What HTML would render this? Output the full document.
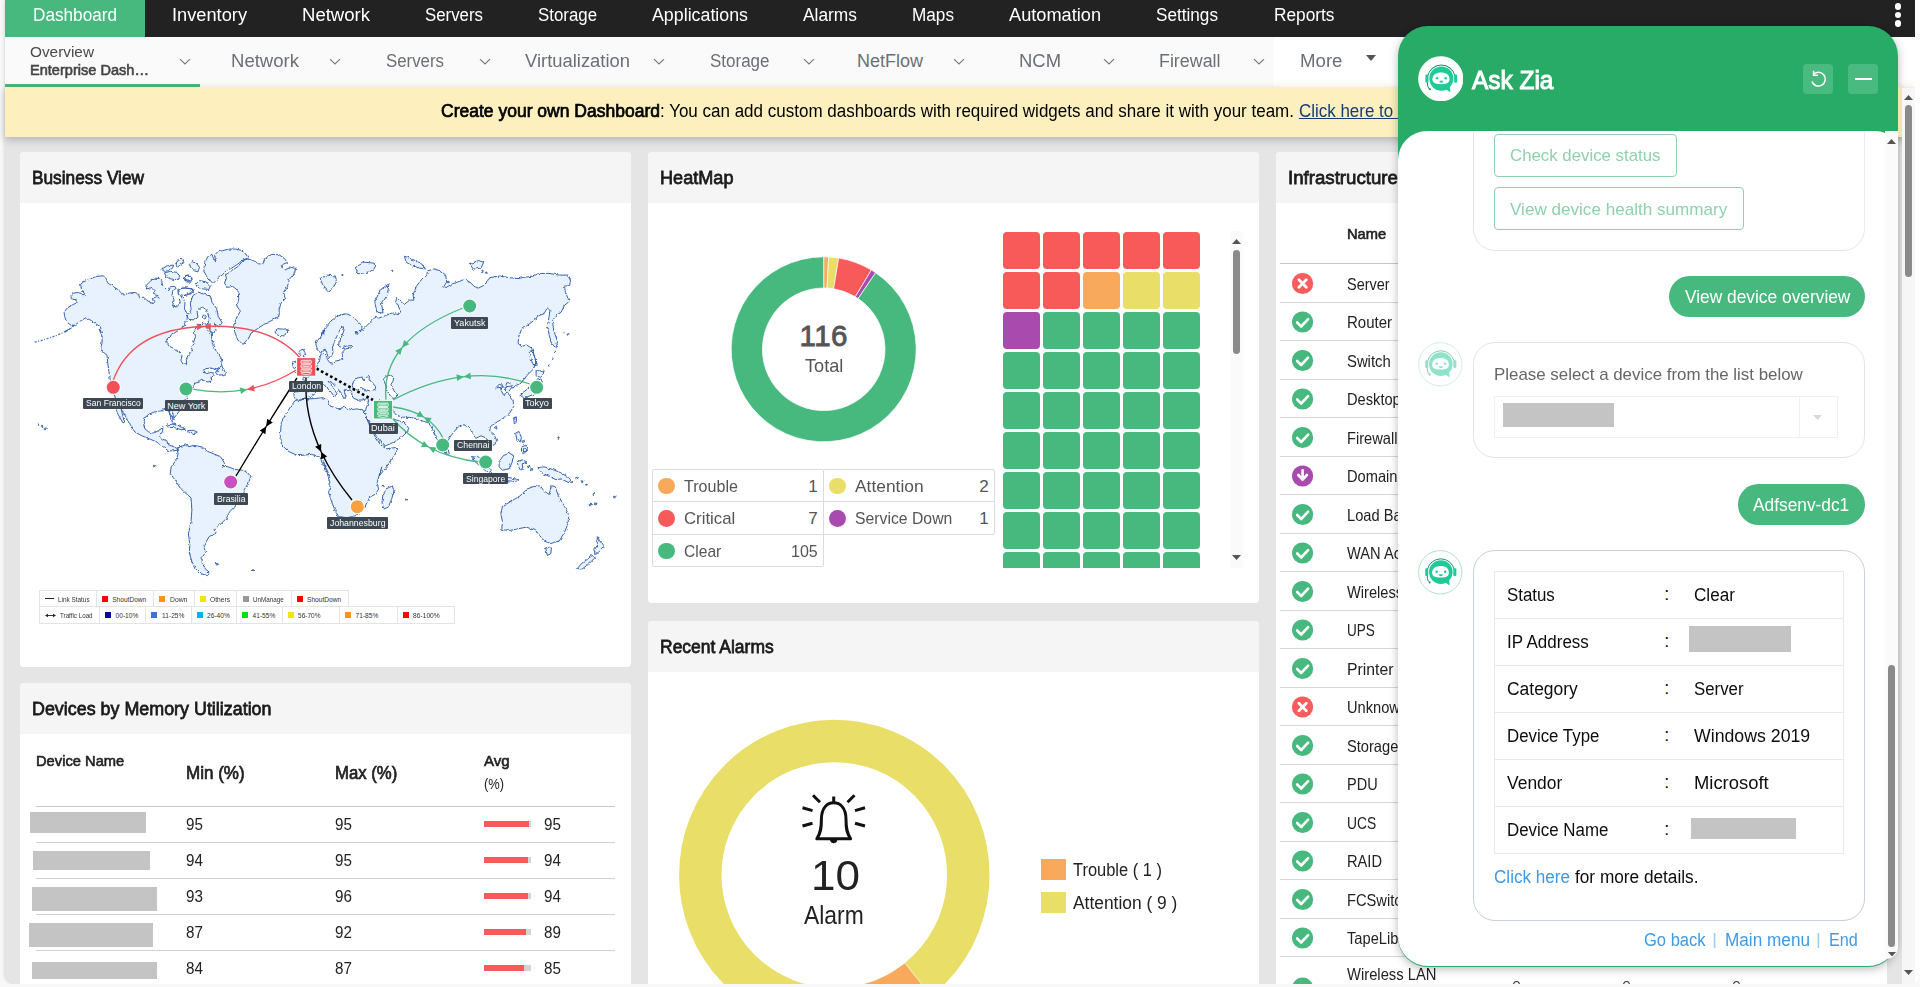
<!DOCTYPE html>
<html><head><meta charset="utf-8"><title>Dashboard</title><style>
html,body{margin:0;padding:0;}
body{width:1920px;height:987px;overflow:hidden;background:#f8f8f8;font-family:"Liberation Sans",sans-serif;position:relative;}
.t{position:absolute;white-space:nowrap;transform-origin:0 50%;}
.b{position:absolute;}
#clip{position:absolute;left:0;top:0;width:1920px;height:984px;overflow:hidden;border-radius:0 0 10px 10px;}
</style></head><body>
<div id="clip">
<div class="b" style="left:5.0px;top:0.0px;width:1910.0px;height:984.0px;background:#e5e5e5;border-radius:0 0 10px 10px;box-shadow:0 0 4px rgba(0,0,0,.18);"></div>
<div class="b" style="left:5.0px;top:0.0px;width:1910.0px;height:37.0px;background:#222;"></div>
<div class="b" style="left:5.0px;top:0.0px;width:140.0px;height:37.0px;background:#48b97e;"></div>
<div class="t" style="left:32.5px;top:3.0px;font-size:18px;line-height:25px;color:#fff;transform:scaleX(0.9538);">Dashboard</div>
<div class="t" style="left:172.0px;top:3.0px;font-size:18px;line-height:25px;color:#fff;transform:scaleX(1.0129);">Inventory</div>
<div class="t" style="left:302.0px;top:3.0px;font-size:18px;line-height:25px;color:#fff;transform:scaleX(1.0300);">Network</div>
<div class="t" style="left:425.0px;top:3.0px;font-size:18px;line-height:25px;color:#fff;transform:scaleX(0.9351);">Servers</div>
<div class="t" style="left:538.0px;top:3.0px;font-size:18px;line-height:25px;color:#fff;transform:scaleX(0.9358);">Storage</div>
<div class="t" style="left:652.0px;top:3.0px;font-size:18px;line-height:25px;color:#fff;transform:scaleX(0.9890);">Applications</div>
<div class="t" style="left:803.0px;top:3.0px;font-size:18px;line-height:25px;color:#fff;transform:scaleX(0.9641);">Alarms</div>
<div class="t" style="left:912.0px;top:3.0px;font-size:18px;line-height:25px;color:#fff;transform:scaleX(0.9541);">Maps</div>
<div class="t" style="left:1009.0px;top:3.0px;font-size:18px;line-height:25px;color:#fff;transform:scaleX(1.0103);">Automation</div>
<div class="t" style="left:1156.0px;top:3.0px;font-size:18px;line-height:25px;color:#fff;transform:scaleX(0.9532);">Settings</div>
<div class="t" style="left:1273.5px;top:3.0px;font-size:18px;line-height:25px;color:#fff;transform:scaleX(0.9598);">Reports</div>
<div class="b" style="left:1895.0px;top:3.3px;width:6.4px;height:6.4px;background:#fff;border-radius:50%;"></div>
<div class="b" style="left:1895.0px;top:11.8px;width:6.4px;height:6.4px;background:#fff;border-radius:50%;"></div>
<div class="b" style="left:1895.0px;top:20.3px;width:6.4px;height:6.4px;background:#fff;border-radius:50%;"></div>
<div class="b" style="left:5.0px;top:37.0px;width:1910.0px;height:50.3px;background:#fafafa;"></div>
<div class="b" style="left:1274.0px;top:37.0px;width:641.0px;height:50.5px;background:#fff;"></div>
<div class="b" style="left:5.0px;top:84.0px;width:195.0px;height:3.0px;background:#48b97e;"></div>
<div class="t" style="left:30.0px;top:40.5px;font-size:15px;line-height:21px;color:#4a4a4a;transform:scaleX(1.0237);">Overview</div>
<div class="t" style="left:30.0px;top:58.6px;font-size:15px;line-height:21px;color:#444;-webkit-text-stroke:0.60px #444;transform:scaleX(0.9710);">Enterprise Dash…</div>
<svg class="b" style="left:179px;top:57.5px" width="12" height="8" viewBox="0 0 12 8"><path d="M1 1.2 L6 6 L11 1.2" fill="none" stroke="#777" stroke-width="1.1"/></svg>
<div class="t" style="left:231.0px;top:49.0px;font-size:18px;line-height:25px;color:#6b6f76;transform:scaleX(1.0300);">Network</div>
<svg class="b" style="left:329px;top:57.5px" width="12" height="8" viewBox="0 0 12 8"><path d="M1 1.2 L6 6 L11 1.2" fill="none" stroke="#777" stroke-width="1.1"/></svg>
<div class="t" style="left:386.0px;top:49.0px;font-size:18px;line-height:25px;color:#6b6f76;transform:scaleX(0.9351);">Servers</div>
<svg class="b" style="left:479px;top:57.5px" width="12" height="8" viewBox="0 0 12 8"><path d="M1 1.2 L6 6 L11 1.2" fill="none" stroke="#777" stroke-width="1.1"/></svg>
<div class="t" style="left:525.0px;top:49.0px;font-size:18px;line-height:25px;color:#6b6f76;transform:scaleX(1.0220);">Virtualization</div>
<svg class="b" style="left:653px;top:57.5px" width="12" height="8" viewBox="0 0 12 8"><path d="M1 1.2 L6 6 L11 1.2" fill="none" stroke="#777" stroke-width="1.1"/></svg>
<div class="t" style="left:710.0px;top:49.0px;font-size:18px;line-height:25px;color:#6b6f76;transform:scaleX(0.9437);">Storage</div>
<svg class="b" style="left:803px;top:57.5px" width="12" height="8" viewBox="0 0 12 8"><path d="M1 1.2 L6 6 L11 1.2" fill="none" stroke="#777" stroke-width="1.1"/></svg>
<div class="t" style="left:857.0px;top:49.0px;font-size:18px;line-height:25px;color:#6b6f76;">NetFlow</div>
<svg class="b" style="left:953px;top:57.5px" width="12" height="8" viewBox="0 0 12 8"><path d="M1 1.2 L6 6 L11 1.2" fill="none" stroke="#777" stroke-width="1.1"/></svg>
<div class="t" style="left:1019.0px;top:49.0px;font-size:18px;line-height:25px;color:#6b6f76;transform:scaleX(1.0245);">NCM</div>
<svg class="b" style="left:1103px;top:57.5px" width="12" height="8" viewBox="0 0 12 8"><path d="M1 1.2 L6 6 L11 1.2" fill="none" stroke="#777" stroke-width="1.1"/></svg>
<div class="t" style="left:1159.0px;top:49.0px;font-size:18px;line-height:25px;color:#6b6f76;transform:scaleX(0.9917);">Firewall</div>
<svg class="b" style="left:1253px;top:57.5px" width="12" height="8" viewBox="0 0 12 8"><path d="M1 1.2 L6 6 L11 1.2" fill="none" stroke="#777" stroke-width="1.1"/></svg>
<div class="t" style="left:1300.0px;top:49.0px;font-size:18px;line-height:25px;color:#6b6f76;transform:scaleX(1.0362);">More</div>
<svg class="b" style="left:1366px;top:55px" width="10" height="6"><path d="M0 0H10L5 6Z" fill="#555"/></svg>
<div class="b" style="left:5.0px;top:87.2px;width:1910.0px;height:49.7px;background:#fdf0be;box-shadow:0 3px 8px rgba(0,0,0,.22);"></div>
<div class="t" style="left:441.0px;top:99.0px;font-size:18px;line-height:25px;color:#000;-webkit-text-stroke:0.72px #000;transform:scaleX(0.9727);">Create your own Dashboard</div>
<div class="t" style="left:660.0px;top:99.0px;font-size:18px;line-height:25px;color:#000;transform:scaleX(0.9443);">: You can add custom dashboards with required widgets and share it with your team.</div>
<div class="t" style="left:1299.0px;top:99.0px;font-size:18px;line-height:25px;color:#1b3a7a;transform:scaleX(0.9415);text-decoration:underline;">Click here to create</div>
<div class="b" style="left:20.0px;top:152.0px;width:611.0px;height:515.0px;background:#fff;border-radius:4px;"></div><div class="b" style="left:20.0px;top:152.0px;width:611.0px;height:50.7px;background:#f5f5f5;border-radius:4px 4px 0 0;"></div><div class="t" style="left:31.8px;top:163.5px;font-size:19px;line-height:27px;color:#1a1a1a;-webkit-text-stroke:0.76px #1a1a1a;transform:scaleX(0.9090);">Business View</div>
<div class="b" style="left:20.0px;top:683.0px;width:611.0px;height:320.0px;background:#fff;border-radius:4px;"></div><div class="b" style="left:20.0px;top:683.0px;width:611.0px;height:50.7px;background:#f5f5f5;border-radius:4px 4px 0 0;"></div><div class="t" style="left:31.8px;top:694.5px;font-size:19px;line-height:27px;color:#1a1a1a;-webkit-text-stroke:0.76px #1a1a1a;transform:scaleX(0.9412);">Devices by Memory Utilization</div>
<div class="b" style="left:648.0px;top:152.0px;width:611.0px;height:451.4px;background:#fff;border-radius:4px;"></div><div class="b" style="left:648.0px;top:152.0px;width:611.0px;height:50.7px;background:#f5f5f5;border-radius:4px 4px 0 0;"></div><div class="t" style="left:659.8px;top:163.5px;font-size:19px;line-height:27px;color:#1a1a1a;-webkit-text-stroke:0.76px #1a1a1a;transform:scaleX(0.9534);">HeatMap</div>
<div class="b" style="left:648.0px;top:621.0px;width:611.0px;height:380.0px;background:#fff;border-radius:4px;"></div><div class="b" style="left:648.0px;top:621.0px;width:611.0px;height:50.7px;background:#f5f5f5;border-radius:4px 4px 0 0;"></div><div class="t" style="left:659.8px;top:632.5px;font-size:19px;line-height:27px;color:#1a1a1a;-webkit-text-stroke:0.76px #1a1a1a;transform:scaleX(0.9203);">Recent Alarms</div>
<div class="b" style="left:1276.0px;top:152.0px;width:611.0px;height:850.0px;background:#fff;border-radius:4px;"></div><div class="b" style="left:1276.0px;top:152.0px;width:611.0px;height:50.7px;background:#f5f5f5;border-radius:4px 4px 0 0;"></div><div class="t" style="left:1287.8px;top:163.5px;font-size:19px;line-height:27px;color:#1a1a1a;-webkit-text-stroke:0.76px #1a1a1a;transform:scaleX(0.9824);">Infrastructure Snapshot</div>
<svg class="b" style="left:0;top:0" width="640" height="680" viewBox="0 0 640 680"><defs><filter id="rg" x="-2%" y="-2%" width="104%" height="104%"><feTurbulence type="fractalNoise" baseFrequency="0.28" numOctaves="2" seed="7" result="n"/><feDisplacementMap in="SourceGraphic" in2="n" scale="3.2" xChannelSelector="R" yChannelSelector="G"/></filter></defs><path filter="url(#rg)" d="M64.1 331.6L69.3 329.2L73.4 326.6L70.8 325.1L66.7 322.0L64.6 316.3L64.1 312.2L67.2 308.0L72.4 304.9L77.5 302.3L75.5 299.8L71.3 298.7L70.8 295.6L73.4 293.0L78.6 292.5L81.7 294.6L85.3 294.6L81.7 290.5L80.6 284.3L83.7 281.7L89.9 279.1L96.1 276.5L103.4 275.7L106.5 279.1L107.5 282.7L112.7 286.3L117.8 289.4L122.0 293.6L124.0 295.1L129.2 293.0L135.4 292.5L138.5 294.1L139.5 297.7L143.7 297.2L146.8 300.3L153.0 303.9L155.0 301.3L151.9 298.7L156.6 296.7L159.7 298.2L158.1 295.6L153.5 294.6L154.0 290.5L150.9 287.4L146.8 289.4L145.7 285.8L149.9 281.7L154.0 278.1L159.2 278.6L161.7 280.6L162.8 285.8L166.4 289.4L169.0 290.5L170.5 286.8L174.7 286.3L176.2 288.4L172.6 290.5L172.1 295.6L174.1 299.8L172.6 306.0L176.7 307.0L180.3 302.9L179.3 298.7L182.9 297.2L185.0 302.9L184.5 309.1L187.6 314.2L187.1 319.4L185.6 322.1L184.1 326.2L176.9 331.4L170.7 335.5L166.5 339.6L167.0 342.2L168.6 345.8L172.7 347.9L177.9 351.0L182.0 355.1L181.0 360.3L183.1 364.4L186.7 363.4L186.2 359.3L188.2 355.1L192.4 351.0L191.3 346.9L193.4 342.7L195.5 336.5L194.4 331.4L196.0 327.2L198.6 324.1L201.7 325.7L203.7 322.1L207.9 326.2L211.0 332.4L212.0 339.6L214.1 345.8L216.1 351.0L221.3 358.2L222.3 363.4L220.3 366.5L216.1 369.6L211.0 368.0L205.8 368.6L203.7 370.6L206.3 373.7L212.0 372.2L214.1 374.8L211.0 377.9L212.0 381.0L207.9 382.0L203.7 381.0L201.7 378.9L198.6 382.0L195.5 383.0L193.4 386.1L191.3 389.2L188.2 394.4L185.6 398.5L184.1 402.7L182.0 407.8L177.9 413.0L174.8 417.1L172.2 421.8L166.0 404.8L170.3 409.1L172.9 414.3L174.3 418.3L171.6 416.9L169.1 411.7L166.0 409.1L160.9 410.9L154.0 412.1L148.8 414.3L145.0 417.7L143.3 423.8L145.0 428.9L148.8 432.0L154.0 433.2L158.8 430.3L162.9 427.6L162.6 431.5L159.5 435.8L162.6 439.3L166.9 440.7L167.8 444.4L172.9 446.5L176.7 448.2L181.5 446.2L177.8 450.0L172.9 451.0L167.8 450.6L163.5 447.0L157.4 442.4L150.5 439.3L141.9 435.8L135.0 432.0L130.7 426.4L127.3 419.5L123.9 413.4L120.9 407.4L122.6 415.2L124.7 422.1L123.0 422.9L119.5 416.9L116.1 410.9L114.7 406.6L118.7 408.6L115.8 400.0L114.0 393.1L112.3 387.1L110.2 379.3L108.9 371.6L107.8 363.8L107.0 355.2L103.2 352.1L100.9 348.3L102.3 341.4L101.5 334.5L98.9 328.9L102.3 332.8L100.3 326.6L96.1 324.0L91.0 320.4L85.8 317.8L80.6 320.9L75.5 324.6L70.8 328.2L65.1 332.4Z M161.2 269.3L167.4 265.7L173.6 265.1L172.6 268.2L167.4 270.8L164.3 271.3Z M175.7 263.6L179.8 258.4L182.4 258.9L184.0 262.6L179.8 265.1L177.8 267.2Z M164.3 272.9L170.5 271.3L176.7 272.4L179.8 276.0L178.8 279.1L174.7 279.6L169.5 278.6L166.4 276.5Z M189.6 264.6L192.2 260.5L196.4 263.1L199.5 267.2L197.9 271.9L194.3 270.8L191.2 268.2Z M184.0 276.0L189.1 275.0L192.2 278.1L190.7 282.2L186.0 281.7Z M177.8 289.4L184.0 287.9L191.2 288.9L194.3 290.5L191.2 293.6L185.0 295.6L179.8 294.6Z M203.7 269.8L204.8 262.6L207.9 256.4L212.0 254.3L213.5 258.4L216.1 262.0L214.6 255.3L217.2 252.2L222.3 250.7L228.5 249.1L235.8 249.1L240.9 250.2L246.1 254.3L248.2 257.9L243.0 260.0L237.8 264.1L231.6 268.2L226.5 270.3L222.3 275.0L217.2 279.1L213.0 283.7L209.9 280.1L206.3 276.0Z M195.5 284.3L199.6 280.6L205.8 281.7L210.4 285.8L208.9 289.4L202.7 288.9L197.5 287.4Z M184.1 276.0L188.2 275.0L191.3 278.1L189.8 281.2L185.6 280.6Z M177.9 291.5L181.0 288.4L187.2 287.9L193.4 289.4L191.3 292.5L186.2 294.6L181.0 296.7L178.4 294.6Z M190.3 302.9L192.9 295.6L198.0 292.0L203.7 294.1L210.4 296.1L212.0 302.3L216.6 308.5L218.2 316.3L222.3 323.0L218.7 326.6L214.6 324.0L216.1 330.8L212.0 334.4L207.9 330.8L206.3 326.6L209.4 318.9L206.3 309.6L202.2 307.0L197.0 311.1L198.0 317.3L194.4 319.9L188.7 319.4L186.7 315.3L191.3 311.1Z M225.4 275.0L231.6 270.8L237.8 266.7L243.0 260.5L248.2 258.9L253.3 260.5L258.5 263.6L262.6 264.6L264.7 258.4L271.9 254.3L279.2 254.8L284.3 258.4L287.4 262.6L283.3 264.1L281.2 266.7L285.4 269.8L290.5 267.2L295.7 268.2L294.7 272.9L289.5 279.1L287.4 286.3L283.3 292.5L285.4 298.7L281.2 302.9L279.2 309.1L279.2 316.3L271.9 320.4L263.7 324.6L257.5 328.7L251.3 332.8L248.2 339.0L243.0 344.2L237.8 340.1L234.7 331.8L234.2 324.6L236.8 317.3L240.4 311.1L236.8 306.0L238.9 298.7L237.8 290.5L232.7 286.3L227.5 287.4L224.4 283.2L226.5 278.1Z M275.0 330.8L277.6 328.7L283.3 329.2L287.9 328.5L287.4 332.8L283.3 335.9L278.1 335.4L275.5 333.3Z M216.1 373.7L218.7 368.6L221.3 365.5L223.9 369.6L225.4 372.7L224.9 376.3L221.3 374.8L218.2 375.3Z M166.0 425.2L172.9 424.1L179.8 426.4L185.8 429.3L181.5 429.8L174.7 427.6L167.8 427.2Z M187.6 430.7L193.6 430.3L197.9 432.4L192.7 433.8L188.4 433.1Z M177.2 448.7L181.5 446.2L187.6 444.4L188.4 447.0L193.6 445.3L202.2 447.0L207.4 451.3L216.0 454.8L221.1 457.4L224.6 463.4L222.0 466.0L228.0 466.8L234.9 469.4L243.5 470.3L248.7 473.7L250.4 478.0L247.8 484.0L244.4 489.2L243.5 496.1L240.1 503.0L234.9 506.4L229.8 511.6L226.3 518.5L221.1 523.7L215.1 528.8L216.0 533.1L209.1 536.6L205.7 542.6L203.9 547.8L205.7 551.2L202.2 556.4L202.2 563.3L205.7 569.3L210.0 572.7L207.4 575.7L200.5 573.6L195.3 568.4L191.9 561.5L189.3 552.9L189.8 544.3L188.4 534.0L191.0 521.9L191.9 509.9L191.0 497.8L185.0 492.7L179.8 487.5L175.5 480.6L170.3 473.7L171.2 466.8L176.4 459.9L178.1 453.9Z M295.1 400.6L304.8 399.2L314.4 398.6L322.7 397.6L328.2 400.6L330.2 406.1L338.5 408.9L344.7 407.2L350.2 409.6L357.1 408.9L363.3 410.3L366.1 417.2L369.5 425.4L375.0 436.4L380.5 444.7L386.0 448.8L395.7 447.5L397.8 449.1L394.3 455.7L388.8 464.0L383.3 470.9L379.2 476.0L382.0 466.8L379.4 474.6L377.2 482.3L378.6 489.2L375.1 494.4L369.9 497.0L366.8 503.0L363.1 509.9L357.0 515.0L347.6 517.6L338.9 516.8L335.5 511.6L332.1 503.0L328.6 492.7L330.3 484.0L327.7 475.4L323.4 461.7L329.6 476.0L325.4 470.9L322.7 464.0L319.9 457.1L311.6 454.4L297.9 455.7L288.9 451.6L282.7 446.1L280.0 439.2L280.6 430.9L281.3 422.7L285.5 414.4L291.0 406.1Z M382.9 494.4L387.2 488.4L392.3 485.8L394.0 490.9L391.5 499.5L388.0 507.3L383.7 509.0L382.0 503.0Z M320.0 338.9L325.2 327.7L332.1 319.9L338.9 315.6L345.8 313.9L351.9 315.6L357.0 320.8L362.2 325.9L361.3 330.2L356.2 331.1L357.0 334.5L363.1 329.4L369.9 322.5L375.1 317.3L378.6 318.2L385.4 315.6L392.3 313.0L398.4 314.7L400.9 311.3L395.8 301.8L396.6 297.5L400.9 301.8L404.4 304.4L409.5 300.1L413.9 300.1L413.0 294.9L416.4 286.3L421.6 279.4L426.8 274.3L427.6 270.8L433.7 269.1L440.5 270.8L445.7 275.1L446.6 282.0L443.1 288.1L448.3 286.3L452.6 283.7L457.8 282.0L464.7 279.4L469.8 282.0L474.1 286.3L478.4 288.1L483.6 285.5L487.9 281.2L489.6 277.7L499.1 276.0L509.4 277.7L518.0 278.6L526.6 276.9L533.5 276.0L538.7 273.4L549.0 273.4L559.4 275.1L568.0 275.1L570.6 279.4L569.7 285.5L564.5 286.3L565.4 291.5L568.0 298.4L568.8 301.8L564.5 305.3L561.1 312.2L555.9 315.6L552.5 320.8L553.3 327.7L555.1 334.5L557.6 341.4L555.9 348.3L551.6 343.2L549.0 334.5L547.3 325.9L549.0 317.3L549.9 310.4L547.3 307.9L543.9 313.9L538.7 315.6L533.5 320.8L526.6 325.9L521.5 329.4L518.9 336.3L518.0 343.2L521.5 346.6L526.6 344.9L531.8 348.3L533.5 355.2L536.1 362.1L533.5 369.0L526.6 375.9L521.5 382.8L516.3 385.3L512.9 387.9L510.3 382.8L506.8 382.8L505.1 387.9L506.8 393.1L503.4 394.8L500.8 389.7L502.5 385.3L499.1 384.5L495.7 387.9L512.9 385.9L507.7 392.8L512.9 399.7L513.7 406.6L509.4 413.4L502.5 418.6L495.7 422.9L490.5 426.4L489.6 430.7L493.9 434.1L496.5 440.1L493.9 445.3L489.6 442.7L485.3 437.6L481.0 435.8L475.8 438.4L473.3 435.0L470.7 429.8L466.4 425.5L462.1 424.6L457.8 427.2L454.3 431.5L450.9 435.8L448.3 440.1L446.6 446.2L444.0 450.5L440.5 447.0L438.0 441.0L435.4 435.8L432.8 429.8L430.2 424.6L428.8 422.7L423.2 421.3L417.7 418.8L409.5 417.4L402.6 417.2L396.4 415.1L393.2 411.6L391.6 406.1L386.0 402.0L379.2 400.6L378.9 404.8L384.7 413.0L390.2 418.5L395.7 419.9L398.4 420.6L404.0 422.7L408.8 428.2L407.4 431.6L402.6 436.4L394.3 442.0L384.7 446.1L381.9 443.3L375.7 435.1L369.5 422.7L366.1 417.2L364.3 411.9L366.1 408.1L367.8 403.9L368.9 398.8L366.1 398.8L362.0 400.1L357.8 399.8L353.7 398.4L352.0 395.7L351.6 392.2L350.3 389.8L347.9 390.8L346.1 389.5L344.1 389.8L344.8 392.9L346.1 395.7L345.4 398.4L343.4 397.7L342.0 395.0L339.9 392.2L338.6 389.8L335.1 386.0L332.4 382.9L329.6 380.9L328.2 381.5L330.6 384.6L333.4 388.4L336.1 392.2L337.2 393.9L335.1 395.7L334.8 397.0L333.4 395.3L331.7 392.9L328.2 389.1L325.8 385.3L324.1 385.3L321.3 386.0L318.6 388.1L317.2 390.8L314.4 393.6L313.1 395.7L310.3 397.7L306.2 399.1L302.7 399.5L299.3 400.6L297.6 399.8L294.8 398.4L294.1 395.7L293.8 393.6L294.8 391.9L302.7 391.2L308.9 390.6L310.3 387.9L308.9 383.7L306.2 381.0L302.7 379.6L303.4 377.5L308.9 376.8L312.4 374.1L314.4 371.3L316.5 367.2L317.5 363.8L319.6 360.3L320.3 356.2L321.0 354.1L323.4 353.4L326.2 356.2L327.5 359.6L329.6 362.4L332.4 363.2L335.1 361.1L339.2 360.4L342.7 358.9L342.0 352.7L345.4 348.9L351.0 347.9L351.6 345.5L346.1 346.2L342.0 347.9L338.6 345.8L339.2 341.0L342.0 335.5L344.1 330.0L342.3 326.0L339.9 330.0L337.2 335.5L334.4 341.7L332.4 347.2L333.0 352.7L331.0 356.9L328.2 357.6L326.8 353.4L324.8 347.9L324.1 350.7L320.6 352.7L317.2 350.0L315.8 343.8L318.6 339.0L322.7 334.8L324.8 330.0Z M300.7 350.0L303.4 349.3L305.1 353.4L303.4 356.9L306.2 360.3L308.9 365.8L310.3 370.6L307.6 374.1L302.7 375.5L297.2 374.8L295.8 372.7L299.3 370.0L297.2 367.2L298.6 363.1L300.7 360.3L299.3 356.2L298.6 352.0Z M292.7 362.4L295.5 361.0L297.2 364.4L296.2 367.5L293.4 367.9L292.1 365.8Z M320.0 278.6L326.9 275.1L335.5 276.0L336.4 282.0L332.9 288.1L327.7 291.5L323.4 286.3Z M354.4 268.2L363.9 262.2L374.2 263.1L374.8 268.2L369.9 271.7L358.7 273.9Z M376.8 312.2L374.8 301.8L380.3 289.8L388.9 283.7L387.5 294.9L381.6 303.6L383.0 313.0Z M404.4 256.2L413.0 259.6L420.7 263.1L425.9 269.1L419.9 268.2L412.1 265.7L406.1 262.2Z M469.8 263.9L478.4 260.5L483.6 262.2L481.0 268.2L473.3 269.1Z M529.2 351.8L532.7 350.9L535.3 358.7L536.1 365.5L533.2 365.5L531.0 358.7Z M536.1 369.8L543.9 372.4L541.3 377.6L536.1 375.9Z M519.8 394.8L526.6 389.7L533.5 384.5L537.8 378.5L542.1 381.0L541.3 387.9L537.0 393.1L530.1 395.7L524.1 398.3Z M513.7 417.7L516.3 416.9L516.7 422.1L514.2 423.8Z M444.8 450.5L448.3 449.6L449.2 453.9L446.1 454.4Z M471.5 456.5L476.7 455.6L483.6 461.7L490.5 469.4L492.2 473.7L487.9 472.9L481.0 466.8L475.0 461.7Z M492.2 476.3L500.8 476.3L511.1 478.0L518.0 479.7L516.3 481.5L506.0 480.6L493.9 478.9Z M499.1 461.7L503.4 455.6L509.4 453.1L513.7 455.6L512.0 462.5L509.4 468.6L502.5 470.3L499.1 466.8Z M517.2 461.7L522.3 459.9L526.6 461.7L522.3 464.2L523.2 470.3L519.8 469.4L518.0 465.1Z M515.5 433.2L518.9 431.5L521.5 437.6L519.8 442.7L517.2 441.0Z M521.5 447.0L525.8 445.3L527.5 450.5L524.1 453.1L521.5 451.3Z M537.8 467.7L543.9 466.8L552.5 469.4L561.1 472.9L568.0 477.2L573.1 482.3L568.0 482.3L561.1 478.9L555.9 479.7L549.0 476.3L542.1 472.9Z M500.8 513.3L502.5 506.4L511.1 501.3L519.8 496.1L526.6 489.2L533.5 486.6L540.4 485.8L543.9 490.9L549.0 494.4L551.6 485.8L555.1 486.6L558.5 496.1L564.5 506.4L568.8 515.0L568.0 523.7L564.5 532.3L559.4 540.9L550.8 543.5L543.9 540.9L538.7 534.0L535.3 530.5L526.6 527.1L518.0 528.8L509.4 530.5L501.7 529.7L502.5 521.9Z M545.6 547.8L551.6 546.9L550.8 553.8L547.3 555.5Z M597.3 536.6L599.8 540.9L604.1 546.9L599.8 551.2L595.5 554.7L593.8 549.5L597.3 544.3Z M592.1 555.5L595.5 557.2L588.6 564.1L581.8 569.3L577.4 568.4L581.8 563.3L587.8 559.0Z M37.8 424.2L39.1 424.0L39.4 425.0L38.1 425.2Z M41.3 426.5L42.6 426.3L42.9 427.3L41.5 427.5Z M44.1 428.3L45.9 428.0L46.3 429.5L44.4 429.8Z M153.1 465.6L154.6 465.4L154.9 466.4L153.4 466.6Z M215.3 563.6L217.8 563.3L218.3 564.7L215.8 564.9Z M252.2 569.8L253.5 569.7L253.8 570.5L252.5 570.7Z M557.8 437.1L559.0 436.9L559.2 438.0L558.0 438.3Z M575.5 477.6L577.3 477.4L577.7 478.5L575.9 478.7Z M580.6 481.0L582.6 480.8L583.0 481.9L581.0 482.1Z M585.6 484.5L587.2 484.3L587.6 485.3L585.9 485.5Z M593.1 493.6L594.3 493.3L594.5 495.1L593.3 495.5Z M595.2 503.2L596.3 502.9L596.6 504.5L595.4 504.9Z M589.0 504.6L591.8 504.4L592.4 505.5L589.6 505.8Z M613.5 496.4L615.7 496.1L616.1 497.6L613.9 497.9Z M494.4 426.6L496.5 426.2L497.0 427.9L494.8 428.2Z M405.4 499.1L406.6 498.9L406.8 499.9L405.6 500.1Z M382.2 485.4L383.3 485.2L383.6 486.2L382.4 486.4Z M527.5 466.3L529.5 466.0L529.9 467.4L527.9 467.6Z M530.3 468.9L532.8 468.7L533.3 469.9L530.8 470.1Z M522.0 440.1L524.0 439.7L524.4 441.9L522.4 442.3Z M523.2 448.8L526.1 448.3L526.6 451.1L523.8 451.7Z M567.1 334.1L568.6 333.9L568.9 335.0L567.4 335.2Z M563.9 332.5L564.9 332.3L565.1 333.2L564.1 333.3Z M554.5 351.3L555.5 351.1L555.7 352.2L554.7 352.5Z M551.9 358.2L552.9 358.0L553.1 359.1L552.1 359.4Z M548.4 365.1L549.4 364.8L549.6 366.0L548.6 366.2Z M543.2 371.1L544.3 370.9L544.6 372.0L543.4 372.3Z M391.7 270.4L392.7 270.2L392.9 271.2L391.9 271.4Z M341.8 274.7L342.8 274.5L343.0 275.5L342.0 275.7Z M447.3 281.5L449.0 281.2L449.3 282.6L447.6 282.8Z M480.7 271.2L482.7 271.0L483.1 272.2L481.1 272.4Z M485.4 272.2L486.7 272.0L487.0 273.0L485.6 273.2Z M202.2 316.3L204.2 314.7L206.3 316.3L205.3 318.9L202.9 318.6Z M352.3 385.3L354.4 379.1L358.5 377.8L362.0 377.1L363.4 380.5L366.8 377.1L369.6 376.4L368.9 379.8L372.3 382.6L375.7 386.7L375.1 389.5L369.6 390.8L364.7 389.5L360.6 387.4L357.8 390.2L353.0 388.8Z M383.3 379.1L386.1 376.4L390.2 375.0L393.7 377.1L393.0 381.2L390.9 384.6L393.7 390.2L396.4 395.0L396.4 397.7L393.0 398.4L390.2 395.7L388.1 391.5L386.1 386.0Z" fill="#e8f1fe" stroke="#2d5cab" stroke-width=".95" stroke-linejoin="round" fill-rule="evenodd"/><path d="M34.6 342.1L39.3 341.1L43.4 339.9L48.6 338.2L53.8 336.3L58.4 334.7L62.0 333.1L64.6 331.8" fill="none" stroke="#3363b0" stroke-width="1.3" stroke-dasharray="2.2 1.4 1 1.6" opacity=".85"/><path d="M113 381 C128 338 168 328 203 326.5 C246 324.5 280 334 300.5 358.5" fill="none" stroke="#f0505a" stroke-width="1.3"/><path d="M203.8 326.6L196.7 323.6L197.0 330.3Z" fill="#f0505a"/><path d="M203.8 326.6L210.9 329.7L210.7 323.0Z" fill="#f0505a"/><path d="M192.0 389.2Q221.0 394.4 247.2 389.4" fill="none" stroke="#48b97e" stroke-width="1.3"/><path d="M247.2 389.4Q273.5 384.5 297.0 369.5" fill="none" stroke="#f0505a" stroke-width="1.3"/><path d="M247.2 389.4L239.8 387.4L241.0 394.0Z" fill="#48b97e"/><path d="M247.2 389.4L254.7 391.5L253.5 384.8Z" fill="#f0505a"/><path d="M316.5 368.5 L373 400" fill="none" stroke="#000" stroke-width="2.6" stroke-dasharray="2.6 2.6"/><path d="M297.0 378.0Q281.5 402.0 266.2 426.5" fill="none" stroke="#000" stroke-width="1.4"/><path d="M266.2 426.5Q251.0 451.0 236.0 476.0" fill="none" stroke="#000" stroke-width="1.4"/><path d="M266.2 426.5L272.8 422.4L267.1 418.8Z" fill="#000"/><path d="M266.2 426.5L259.7 430.6L265.4 434.2Z" fill="#000"/><path d="M306.0 378.0Q304.2 415.2 321.1 451.7" fill="none" stroke="#000" stroke-width="1.4"/><path d="M321.1 451.7Q332.4 476.0 352.0 500.0" fill="none" stroke="#000" stroke-width="1.4"/><path d="M321.1 451.7L321.2 443.9L315.1 446.8Z" fill="#000"/><path d="M321.1 451.7L321.0 459.4L327.1 456.6Z" fill="#000"/><path d="M386.0 400.0Q383.0 370.5 402.2 347.5" fill="none" stroke="#48b97e" stroke-width="1.3"/><path d="M402.2 347.5Q421.5 324.5 463.0 308.0" fill="none" stroke="#48b97e" stroke-width="1.3"/><path d="M402.2 347.5L395.2 350.7L400.4 355.0Z" fill="#48b97e"/><path d="M402.2 347.5L409.3 344.3L404.1 340.0Z" fill="#48b97e"/><path d="M393.0 400.0Q429.5 380.7 463.8 376.7" fill="none" stroke="#48b97e" stroke-width="1.3"/><path d="M463.8 376.7Q498.0 372.7 530.0 384.0" fill="none" stroke="#48b97e" stroke-width="1.3"/><path d="M463.8 376.7L456.4 374.2L457.2 380.9Z" fill="#48b97e"/><path d="M463.8 376.7L471.1 379.2L470.3 372.5Z" fill="#48b97e"/><path d="M393.0 407.0Q411.5 409.5 424.0 417.2" fill="none" stroke="#48b97e" stroke-width="1.3"/><path d="M424.0 417.2Q436.5 425.0 443.0 438.0" fill="none" stroke="#48b97e" stroke-width="1.3"/><path d="M424.0 417.2L419.9 410.7L416.3 416.4Z" fill="#48b97e"/><path d="M424.0 417.2L428.1 423.8L431.7 418.1Z" fill="#48b97e"/><path d="M392.0 418.0Q407.8 436.2 428.7 447.1" fill="none" stroke="#48b97e" stroke-width="1.3"/><path d="M428.7 447.1Q451.4 458.9 480.0 462.0" fill="none" stroke="#48b97e" stroke-width="1.3"/><path d="M428.7 447.1L424.1 440.9L421.0 446.9Z" fill="#48b97e"/><path d="M428.7 447.1L433.4 453.3L436.5 447.3Z" fill="#48b97e"/><circle cx="113.3" cy="387.3" r="7.6" fill="#fff" opacity=".9"/><circle cx="113.3" cy="387.3" r="6.5" fill="#f0505a"/><circle cx="186.0" cy="389.0" r="7.6" fill="#fff" opacity=".9"/><circle cx="186.0" cy="389.0" r="6.5" fill="#48b97e"/><circle cx="469.7" cy="306.0" r="7.6" fill="#fff" opacity=".9"/><circle cx="469.7" cy="306.0" r="6.5" fill="#48b97e"/><circle cx="536.7" cy="387.3" r="7.6" fill="#fff" opacity=".9"/><circle cx="536.7" cy="387.3" r="6.5" fill="#48b97e"/><circle cx="442.7" cy="445.0" r="7.6" fill="#fff" opacity=".9"/><circle cx="442.7" cy="445.0" r="6.5" fill="#48b97e"/><circle cx="485.7" cy="462.0" r="7.6" fill="#fff" opacity=".9"/><circle cx="485.7" cy="462.0" r="6.5" fill="#48b97e"/><circle cx="230.7" cy="482.0" r="7.6" fill="#fff" opacity=".9"/><circle cx="230.7" cy="482.0" r="6.5" fill="#c94fc0"/><circle cx="357.3" cy="506.7" r="7.6" fill="#fff" opacity=".9"/><circle cx="357.3" cy="506.7" r="6.5" fill="#f9a040"/><rect x="296.0" y="357.0" width="20.4" height="19.8" fill="#fff" opacity=".9"/><rect x="297.1" y="358.1" width="18.2" height="17.6" fill="#f0505a"/><rect x="300.9" y="360.3" width="10.6" height="3.4" rx="1.2" fill="#fff" fill-opacity=".28" stroke="#fff" stroke-width=".75"/><path d="M303.0 362.0h6.4" stroke="#fff" stroke-width=".7" opacity=".9"/><rect x="300.9" y="364.7" width="10.6" height="3.4" rx="1.2" fill="#fff" fill-opacity=".28" stroke="#fff" stroke-width=".75"/><path d="M303.0 366.4h6.4" stroke="#fff" stroke-width=".7" opacity=".9"/><rect x="300.9" y="369.1" width="10.6" height="3.4" rx="1.2" fill="#fff" fill-opacity=".28" stroke="#fff" stroke-width=".75"/><path d="M303.0 370.8h6.4" stroke="#fff" stroke-width=".7" opacity=".9"/><path d="M300.9 373.6q5.3 2.2 10.6 0" fill="none" stroke="#fff" stroke-width=".75"/><rect x="372.8" y="399.8" width="20.4" height="19.8" fill="#fff" opacity=".9"/><rect x="373.9" y="400.9" width="18.2" height="17.6" fill="#48b97e"/><rect x="377.7" y="403.1" width="10.6" height="3.4" rx="1.2" fill="#fff" fill-opacity=".28" stroke="#fff" stroke-width=".75"/><path d="M379.8 404.8h6.4" stroke="#fff" stroke-width=".7" opacity=".9"/><rect x="377.7" y="407.5" width="10.6" height="3.4" rx="1.2" fill="#fff" fill-opacity=".28" stroke="#fff" stroke-width=".75"/><path d="M379.8 409.2h6.4" stroke="#fff" stroke-width=".7" opacity=".9"/><rect x="377.7" y="411.9" width="10.6" height="3.4" rx="1.2" fill="#fff" fill-opacity=".28" stroke="#fff" stroke-width=".75"/><path d="M379.8 413.6h6.4" stroke="#fff" stroke-width=".7" opacity=".9"/><path d="M377.7 416.4q5.3 2.2 10.6 0" fill="none" stroke="#fff" stroke-width=".75"/></svg>
<div class="b" style="left:83.3px;top:397.8px;width:60.0px;height:11.4px;background:#3d4853;border-radius:1px;"></div>
<div class="t" style="left:85.9px;top:397.4px;font-size:9px;line-height:13px;color:#fff;transform:scaleX(0.9528);">San Francisco</div>
<div class="b" style="left:164.7px;top:399.9px;width:43.3px;height:11.4px;background:#3d4853;border-radius:1px;"></div>
<div class="t" style="left:167.3px;top:399.5px;font-size:9px;line-height:13px;color:#fff;">New York</div>
<div class="b" style="left:289.0px;top:380.6px;width:34.3px;height:11.4px;background:#3d4853;border-radius:1px;"></div>
<div class="t" style="left:291.6px;top:380.2px;font-size:9px;line-height:13px;color:#fff;transform:scaleX(0.9692);">London</div>
<div class="b" style="left:368.7px;top:422.6px;width:29.0px;height:11.4px;background:#3d4853;border-radius:1px;"></div>
<div class="t" style="left:371.3px;top:422.2px;font-size:9px;line-height:13px;color:#fff;transform:scaleX(1.0123);">Dubai</div>
<div class="b" style="left:451.3px;top:317.3px;width:36.7px;height:11.4px;background:#3d4853;border-radius:1px;"></div>
<div class="t" style="left:453.9px;top:316.9px;font-size:9px;line-height:13px;color:#fff;transform:scaleX(1.0050);">Yakutsk</div>
<div class="b" style="left:522.7px;top:397.8px;width:29.0px;height:11.4px;background:#3d4853;border-radius:1px;"></div>
<div class="t" style="left:525.3px;top:397.4px;font-size:9px;line-height:13px;color:#fff;transform:scaleX(1.0124);">Tokyo</div>
<div class="b" style="left:454.0px;top:439.8px;width:37.7px;height:11.4px;background:#3d4853;border-radius:1px;"></div>
<div class="t" style="left:456.6px;top:439.4px;font-size:9px;line-height:13px;color:#fff;transform:scaleX(0.9696);">Chennai</div>
<div class="b" style="left:463.3px;top:473.1px;width:44.4px;height:11.4px;background:#3d4853;border-radius:1px;"></div>
<div class="t" style="left:465.9px;top:472.7px;font-size:9px;line-height:13px;color:#fff;transform:scaleX(0.9556);">Singapore</div>
<div class="b" style="left:214.0px;top:493.3px;width:33.7px;height:11.4px;background:#3d4853;border-radius:1px;"></div>
<div class="t" style="left:216.6px;top:492.9px;font-size:9px;line-height:13px;color:#fff;transform:scaleX(0.9658);">Brasilia</div>
<div class="b" style="left:327.0px;top:517.3px;width:60.7px;height:11.4px;background:#3d4853;border-radius:1px;"></div>
<div class="t" style="left:329.6px;top:516.9px;font-size:9px;line-height:13px;color:#fff;transform:scaleX(0.9732);">Johannesburg</div>
<div class="b" style="left:38.7px;top:590.3px;width:310.5px;height:16.9px;background:#fff;border:1px solid #e4e4e4;box-sizing:border-box;"></div>
<div class="b" style="left:38.7px;top:606.4px;width:415.9px;height:17.4px;background:#fff;border:1px solid #e4e4e4;box-sizing:border-box;"></div>
<div class="b" style="left:95.5px;top:590.3px;width:1.0px;height:16.6px;background:#e4e4e4;"></div>
<div class="b" style="left:152.5px;top:590.3px;width:1.0px;height:16.6px;background:#e4e4e4;"></div>
<div class="b" style="left:193.5px;top:590.3px;width:1.0px;height:16.6px;background:#e4e4e4;"></div>
<div class="b" style="left:236.3px;top:590.3px;width:1.0px;height:16.6px;background:#e4e4e4;"></div>
<div class="b" style="left:290.7px;top:590.3px;width:1.0px;height:16.6px;background:#e4e4e4;"></div>
<div class="b" style="left:98.6px;top:606.4px;width:1.0px;height:17.2px;background:#e4e4e4;"></div>
<div class="b" style="left:144.6px;top:606.4px;width:1.0px;height:17.2px;background:#e4e4e4;"></div>
<div class="b" style="left:190.6px;top:606.4px;width:1.0px;height:17.2px;background:#e4e4e4;"></div>
<div class="b" style="left:236.3px;top:606.4px;width:1.0px;height:17.2px;background:#e4e4e4;"></div>
<div class="b" style="left:281.9px;top:606.4px;width:1.0px;height:17.2px;background:#e4e4e4;"></div>
<div class="b" style="left:339.1px;top:606.4px;width:1.0px;height:17.2px;background:#e4e4e4;"></div>
<div class="b" style="left:396.6px;top:606.4px;width:1.0px;height:17.2px;background:#e4e4e4;"></div>
<div class="b" style="left:45.2px;top:598.2px;width:8.8px;height:0.9px;background:#222;"></div>
<svg class="b" style="left:45px;top:613px" width="11" height="5"><path d="M2.5 2.5H8.5" stroke="#222" stroke-width=".9"/><path d="M0 2.5L3 .8V4.2Z M11 2.5L8 .8V4.2Z" fill="#222"/></svg>
<div class="t" style="left:57.9px;top:594.6px;font-size:6.6px;line-height:9px;color:#333;transform:scaleX(0.9680);">Link Status</div>
<div class="t" style="left:112.2px;top:594.6px;font-size:6.6px;line-height:9px;color:#333;">ShoutDown</div>
<div class="b" style="left:101.9px;top:595.6px;width:6.2px;height:6.2px;background:#ff0000;"></div>
<div class="t" style="left:169.7px;top:594.6px;font-size:6.6px;line-height:9px;color:#333;transform:scaleX(1.0253);">Down</div>
<div class="b" style="left:159.0px;top:595.6px;width:6.2px;height:6.2px;background:#f7941d;"></div>
<div class="t" style="left:210.0px;top:594.6px;font-size:6.6px;line-height:9px;color:#333;transform:scaleX(1.0152);">Others</div>
<div class="b" style="left:199.7px;top:595.6px;width:6.2px;height:6.2px;background:#f0e60a;"></div>
<div class="t" style="left:253.3px;top:594.6px;font-size:6.6px;line-height:9px;color:#333;transform:scaleX(0.9511);">UnManage</div>
<div class="b" style="left:242.8px;top:595.6px;width:6.2px;height:6.2px;background:#999;"></div>
<div class="t" style="left:307.0px;top:594.6px;font-size:6.6px;line-height:9px;color:#333;">ShoutDown</div>
<div class="b" style="left:297.0px;top:595.6px;width:6.2px;height:6.2px;background:#ff0000;"></div>
<div class="t" style="left:59.5px;top:611.2px;font-size:6.6px;line-height:9px;color:#333;transform:scaleX(0.9457);">Traffic Load</div>
<div class="t" style="left:115.6px;top:611.2px;font-size:6.6px;line-height:9px;color:#333;">00-10%</div>
<div class="b" style="left:105.0px;top:612.2px;width:6.2px;height:6.2px;background:#0b0b9b;"></div>
<div class="t" style="left:161.6px;top:611.2px;font-size:6.6px;line-height:9px;color:#333;transform:scaleX(1.0110);">11-25%</div>
<div class="b" style="left:150.8px;top:612.2px;width:6.2px;height:6.2px;background:#3f6fd8;"></div>
<div class="t" style="left:207.1px;top:611.2px;font-size:6.6px;line-height:9px;color:#333;">26-40%</div>
<div class="b" style="left:196.6px;top:612.2px;width:6.2px;height:6.2px;background:#00b4f5;"></div>
<div class="t" style="left:252.6px;top:611.2px;font-size:6.6px;line-height:9px;color:#333;">41-55%</div>
<div class="b" style="left:242.1px;top:612.2px;width:6.2px;height:6.2px;background:#00e000;"></div>
<div class="t" style="left:298.4px;top:611.2px;font-size:6.6px;line-height:9px;color:#333;transform:scaleX(0.9893);">56-70%</div>
<div class="b" style="left:287.9px;top:612.2px;width:6.2px;height:6.2px;background:#f0e60a;"></div>
<div class="t" style="left:355.6px;top:611.2px;font-size:6.6px;line-height:9px;color:#333;">71-85%</div>
<div class="b" style="left:345.1px;top:612.2px;width:6.2px;height:6.2px;background:#f7941d;"></div>
<div class="t" style="left:412.9px;top:611.2px;font-size:6.6px;line-height:9px;color:#333;transform:scaleX(1.0147);">86-100%</div>
<div class="b" style="left:402.6px;top:612.2px;width:6.2px;height:6.2px;background:#ff0000;"></div>
<div class="t" style="left:36.0px;top:749.8px;font-size:15px;line-height:21px;color:#222;-webkit-text-stroke:0.60px #222;transform:scaleX(0.9807);">Device Name</div>
<div class="t" style="left:185.7px;top:760.8px;font-size:18px;line-height:25px;color:#222;-webkit-text-stroke:0.72px #222;transform:scaleX(0.9451);">Min (%)</div>
<div class="t" style="left:335.0px;top:760.8px;font-size:18px;line-height:25px;color:#222;-webkit-text-stroke:0.72px #222;transform:scaleX(0.9298);">Max (%)</div>
<div class="t" style="left:484.3px;top:749.8px;font-size:15px;line-height:21px;color:#222;-webkit-text-stroke:0.60px #222;transform:scaleX(1.0048);">Avg</div>
<div class="t" style="left:484.3px;top:773.6px;font-size:14px;line-height:20px;color:#222;transform:scaleX(0.9184);">(%)</div>
<div class="b" style="left:36.0px;top:806.0px;width:579.0px;height:1.0px;background:#c8c8c8;"></div>
<div class="t" style="left:185.7px;top:814.2px;font-size:16px;line-height:22px;color:#222;transform:scaleX(0.9496);">95</div>
<div class="t" style="left:335.0px;top:814.2px;font-size:16px;line-height:22px;color:#222;transform:scaleX(0.9496);">95</div>
<div class="b" style="left:484.3px;top:821.1px;width:46.7px;height:5.6px;background:#d3d3d3;"></div>
<div class="b" style="left:484.3px;top:821.1px;width:44.4px;height:5.6px;background:#f85a5a;"></div>
<div class="t" style="left:544.3px;top:814.2px;font-size:16px;line-height:22px;color:#222;transform:scaleX(0.9496);">95</div>
<div class="b" style="left:36.0px;top:842.0px;width:579.0px;height:1.0px;background:#d0d0d0;"></div>
<div class="b" style="left:30.0px;top:812.3px;width:115.7px;height:20.4px;background:#c4c4c4;"></div>
<div class="t" style="left:185.7px;top:850.2px;font-size:16px;line-height:22px;color:#222;transform:scaleX(0.9496);">94</div>
<div class="t" style="left:335.0px;top:850.2px;font-size:16px;line-height:22px;color:#222;transform:scaleX(0.9496);">95</div>
<div class="b" style="left:484.3px;top:857.1px;width:46.7px;height:5.6px;background:#d3d3d3;"></div>
<div class="b" style="left:484.3px;top:857.1px;width:43.9px;height:5.6px;background:#f85a5a;"></div>
<div class="t" style="left:544.3px;top:850.2px;font-size:16px;line-height:22px;color:#222;transform:scaleX(0.9496);">94</div>
<div class="b" style="left:36.0px;top:878.0px;width:579.0px;height:1.0px;background:#d0d0d0;"></div>
<div class="b" style="left:33.0px;top:851.3px;width:116.7px;height:18.4px;background:#c4c4c4;"></div>
<div class="t" style="left:185.7px;top:886.2px;font-size:16px;line-height:22px;color:#222;transform:scaleX(0.9496);">93</div>
<div class="t" style="left:335.0px;top:886.2px;font-size:16px;line-height:22px;color:#222;transform:scaleX(0.9496);">96</div>
<div class="b" style="left:484.3px;top:893.1px;width:46.7px;height:5.6px;background:#d3d3d3;"></div>
<div class="b" style="left:484.3px;top:893.1px;width:43.9px;height:5.6px;background:#f85a5a;"></div>
<div class="t" style="left:544.3px;top:886.2px;font-size:16px;line-height:22px;color:#222;transform:scaleX(0.9496);">94</div>
<div class="b" style="left:36.0px;top:914.0px;width:579.0px;height:1.0px;background:#d0d0d0;"></div>
<div class="b" style="left:32.0px;top:887.3px;width:124.7px;height:24.0px;background:#c4c4c4;"></div>
<div class="t" style="left:185.7px;top:922.2px;font-size:16px;line-height:22px;color:#222;transform:scaleX(0.9496);">87</div>
<div class="t" style="left:335.0px;top:922.2px;font-size:16px;line-height:22px;color:#222;transform:scaleX(0.9496);">92</div>
<div class="b" style="left:484.3px;top:929.1px;width:46.7px;height:5.6px;background:#d3d3d3;"></div>
<div class="b" style="left:484.3px;top:929.1px;width:41.6px;height:5.6px;background:#f85a5a;"></div>
<div class="t" style="left:544.3px;top:922.2px;font-size:16px;line-height:22px;color:#222;transform:scaleX(0.9496);">89</div>
<div class="b" style="left:36.0px;top:950.0px;width:579.0px;height:1.0px;background:#d0d0d0;"></div>
<div class="b" style="left:29.0px;top:923.3px;width:123.7px;height:23.8px;background:#c4c4c4;"></div>
<div class="t" style="left:185.7px;top:958.2px;font-size:16px;line-height:22px;color:#222;transform:scaleX(0.9496);">84</div>
<div class="t" style="left:335.0px;top:958.2px;font-size:16px;line-height:22px;color:#222;transform:scaleX(0.9496);">87</div>
<div class="b" style="left:484.3px;top:965.1px;width:46.7px;height:5.6px;background:#d3d3d3;"></div>
<div class="b" style="left:484.3px;top:965.1px;width:39.7px;height:5.6px;background:#f85a5a;"></div>
<div class="t" style="left:544.3px;top:958.2px;font-size:16px;line-height:22px;color:#222;transform:scaleX(0.9496);">85</div>
<div class="b" style="left:32.0px;top:962.3px;width:124.7px;height:16.4px;background:#c4c4c4;"></div>
<svg class="b" style="left:640px;top:200px" width="640" height="420" viewBox="640 200 640 420"><path d="M823.70 256.80A92.50 92.50 0 0 1 828.71 256.94L827.02 288.09A61.30 61.30 0 0 0 823.70 288.00Z" fill="#f9a95c" stroke="#fff" stroke-width=".7"/><path d="M828.71 256.94A92.50 92.50 0 0 1 838.66 258.02L833.62 288.81A61.30 61.30 0 0 0 827.02 288.09Z" fill="#e8de68" stroke="#fff" stroke-width=".7"/><path d="M838.66 258.02A92.50 92.50 0 0 1 871.39 270.04L855.30 296.77A61.30 61.30 0 0 0 833.62 288.81Z" fill="#f85a5a" stroke="#fff" stroke-width=".7"/><path d="M871.39 270.04A92.50 92.50 0 0 1 875.61 272.74L858.10 298.56A61.30 61.30 0 0 0 855.30 296.77Z" fill="#a94aaf" stroke="#fff" stroke-width=".7"/><path d="M875.61 272.74A92.50 92.50 0 1 1 823.70 256.80L823.70 288.00A61.30 61.30 0 1 0 858.10 298.56Z" fill="#48b97e" stroke="#fff" stroke-width=".7"/></svg>
<div class="t" style="left:799.6px;top:315.3px;font-size:29.5px;line-height:41px;color:#555;-webkit-text-stroke:0.85px #555;letter-spacing:.4px;">116</div>
<div class="t" style="left:805.1px;top:351.5px;font-size:19px;line-height:27px;color:#555;transform:scaleX(0.9543);">Total</div>
<div class="b" style="left:1003.0px;top:232.0px;width:36.7px;height:36.7px;background:#f85a5a;border-radius:4px;"></div>
<div class="b" style="left:1043.0px;top:232.0px;width:36.7px;height:36.7px;background:#f85a5a;border-radius:4px;"></div>
<div class="b" style="left:1083.0px;top:232.0px;width:36.7px;height:36.7px;background:#f85a5a;border-radius:4px;"></div>
<div class="b" style="left:1123.0px;top:232.0px;width:36.7px;height:36.7px;background:#f85a5a;border-radius:4px;"></div>
<div class="b" style="left:1163.0px;top:232.0px;width:36.7px;height:36.7px;background:#f85a5a;border-radius:4px;"></div>
<div class="b" style="left:1003.0px;top:272.0px;width:36.7px;height:36.7px;background:#f85a5a;border-radius:4px;"></div>
<div class="b" style="left:1043.0px;top:272.0px;width:36.7px;height:36.7px;background:#f85a5a;border-radius:4px;"></div>
<div class="b" style="left:1083.0px;top:272.0px;width:36.7px;height:36.7px;background:#f9a95c;border-radius:4px;"></div>
<div class="b" style="left:1123.0px;top:272.0px;width:36.7px;height:36.7px;background:#e8de68;border-radius:4px;"></div>
<div class="b" style="left:1163.0px;top:272.0px;width:36.7px;height:36.7px;background:#e8de68;border-radius:4px;"></div>
<div class="b" style="left:1003.0px;top:312.0px;width:36.7px;height:36.7px;background:#a94aaf;border-radius:4px;"></div>
<div class="b" style="left:1043.0px;top:312.0px;width:36.7px;height:36.7px;background:#48b97e;border-radius:4px;"></div>
<div class="b" style="left:1083.0px;top:312.0px;width:36.7px;height:36.7px;background:#48b97e;border-radius:4px;"></div>
<div class="b" style="left:1123.0px;top:312.0px;width:36.7px;height:36.7px;background:#48b97e;border-radius:4px;"></div>
<div class="b" style="left:1163.0px;top:312.0px;width:36.7px;height:36.7px;background:#48b97e;border-radius:4px;"></div>
<div class="b" style="left:1003.0px;top:352.0px;width:36.7px;height:36.7px;background:#48b97e;border-radius:4px;"></div>
<div class="b" style="left:1043.0px;top:352.0px;width:36.7px;height:36.7px;background:#48b97e;border-radius:4px;"></div>
<div class="b" style="left:1083.0px;top:352.0px;width:36.7px;height:36.7px;background:#48b97e;border-radius:4px;"></div>
<div class="b" style="left:1123.0px;top:352.0px;width:36.7px;height:36.7px;background:#48b97e;border-radius:4px;"></div>
<div class="b" style="left:1163.0px;top:352.0px;width:36.7px;height:36.7px;background:#48b97e;border-radius:4px;"></div>
<div class="b" style="left:1003.0px;top:392.0px;width:36.7px;height:36.7px;background:#48b97e;border-radius:4px;"></div>
<div class="b" style="left:1043.0px;top:392.0px;width:36.7px;height:36.7px;background:#48b97e;border-radius:4px;"></div>
<div class="b" style="left:1083.0px;top:392.0px;width:36.7px;height:36.7px;background:#48b97e;border-radius:4px;"></div>
<div class="b" style="left:1123.0px;top:392.0px;width:36.7px;height:36.7px;background:#48b97e;border-radius:4px;"></div>
<div class="b" style="left:1163.0px;top:392.0px;width:36.7px;height:36.7px;background:#48b97e;border-radius:4px;"></div>
<div class="b" style="left:1003.0px;top:432.0px;width:36.7px;height:36.7px;background:#48b97e;border-radius:4px;"></div>
<div class="b" style="left:1043.0px;top:432.0px;width:36.7px;height:36.7px;background:#48b97e;border-radius:4px;"></div>
<div class="b" style="left:1083.0px;top:432.0px;width:36.7px;height:36.7px;background:#48b97e;border-radius:4px;"></div>
<div class="b" style="left:1123.0px;top:432.0px;width:36.7px;height:36.7px;background:#48b97e;border-radius:4px;"></div>
<div class="b" style="left:1163.0px;top:432.0px;width:36.7px;height:36.7px;background:#48b97e;border-radius:4px;"></div>
<div class="b" style="left:1003.0px;top:472.0px;width:36.7px;height:36.7px;background:#48b97e;border-radius:4px;"></div>
<div class="b" style="left:1043.0px;top:472.0px;width:36.7px;height:36.7px;background:#48b97e;border-radius:4px;"></div>
<div class="b" style="left:1083.0px;top:472.0px;width:36.7px;height:36.7px;background:#48b97e;border-radius:4px;"></div>
<div class="b" style="left:1123.0px;top:472.0px;width:36.7px;height:36.7px;background:#48b97e;border-radius:4px;"></div>
<div class="b" style="left:1163.0px;top:472.0px;width:36.7px;height:36.7px;background:#48b97e;border-radius:4px;"></div>
<div class="b" style="left:1003.0px;top:512.0px;width:36.7px;height:36.7px;background:#48b97e;border-radius:4px;"></div>
<div class="b" style="left:1043.0px;top:512.0px;width:36.7px;height:36.7px;background:#48b97e;border-radius:4px;"></div>
<div class="b" style="left:1083.0px;top:512.0px;width:36.7px;height:36.7px;background:#48b97e;border-radius:4px;"></div>
<div class="b" style="left:1123.0px;top:512.0px;width:36.7px;height:36.7px;background:#48b97e;border-radius:4px;"></div>
<div class="b" style="left:1163.0px;top:512.0px;width:36.7px;height:36.7px;background:#48b97e;border-radius:4px;"></div>
<div class="b" style="left:1003.0px;top:552.0px;width:36.7px;height:15.7px;background:#48b97e;border-radius:4px 4px 0 0;"></div>
<div class="b" style="left:1043.0px;top:552.0px;width:36.7px;height:15.7px;background:#48b97e;border-radius:4px 4px 0 0;"></div>
<div class="b" style="left:1083.0px;top:552.0px;width:36.7px;height:15.7px;background:#48b97e;border-radius:4px 4px 0 0;"></div>
<div class="b" style="left:1123.0px;top:552.0px;width:36.7px;height:15.7px;background:#48b97e;border-radius:4px 4px 0 0;"></div>
<div class="b" style="left:1163.0px;top:552.0px;width:36.7px;height:15.7px;background:#48b97e;border-radius:4px 4px 0 0;"></div>
<div class="b" style="left:1230.0px;top:231.0px;width:12.7px;height:336.7px;background:#fafafa;"></div>
<svg class="b" style="left:1232px;top:239px" width="9" height="5"><path d="M0 5H9L4.5 0Z" fill="#555"/></svg>
<div class="b" style="left:1233.3px;top:250.0px;width:6.7px;height:104.3px;background:#8a8a8a;border-radius:3.4px;"></div>
<svg class="b" style="left:1232px;top:555px" width="9" height="5"><path d="M0 0H9L4.5 5Z" fill="#555"/></svg>
<div class="b" style="left:652.3px;top:469.3px;width:171.5px;height:97.5px;background:transparent;border:1px solid #dcdcdc;box-sizing:border-box;border-radius:2px;"></div>
<div class="b" style="left:823.0px;top:469.3px;width:171.8px;height:65.5px;background:transparent;border:1px solid #dcdcdc;box-sizing:border-box;border-radius:2px;"></div>
<div class="b" style="left:652.3px;top:501.3px;width:342.0px;height:1.0px;background:#dcdcdc;"></div>
<div class="b" style="left:652.3px;top:534.0px;width:171.0px;height:1.0px;background:#dcdcdc;"></div>
<div class="b" style="left:658.3px;top:477.6px;width:16.8px;height:16.8px;background:#f9a95c;border-radius:50%;"></div>
<div class="t" style="left:683.7px;top:474.9px;font-size:17px;line-height:24px;color:#555;transform:scaleX(0.9473);">Trouble</div>
<div class="t" style="left:808.2px;top:474.9px;font-size:17px;line-height:24px;color:#555;">1</div>
<div class="b" style="left:658.3px;top:509.9px;width:16.8px;height:16.8px;background:#f85a5a;border-radius:50%;"></div>
<div class="t" style="left:683.7px;top:507.2px;font-size:17px;line-height:24px;color:#555;transform:scaleX(0.9876);">Critical</div>
<div class="t" style="left:808.2px;top:507.2px;font-size:17px;line-height:24px;color:#555;">7</div>
<div class="b" style="left:658.3px;top:542.6px;width:16.8px;height:16.8px;background:#48b97e;border-radius:50%;"></div>
<div class="t" style="left:683.7px;top:539.9px;font-size:17px;line-height:24px;color:#555;transform:scaleX(0.9182);">Clear</div>
<div class="t" style="left:791.0px;top:539.9px;font-size:17px;line-height:24px;color:#555;transform:scaleX(0.9415);">105</div>
<div class="b" style="left:829.3px;top:477.6px;width:16.8px;height:16.8px;background:#e8de68;border-radius:50%;"></div>
<div class="t" style="left:854.7px;top:474.9px;font-size:17px;line-height:24px;color:#555;transform:scaleX(1.0224);">Attention</div>
<div class="t" style="left:979.2px;top:474.9px;font-size:17px;line-height:24px;color:#555;">2</div>
<div class="b" style="left:829.3px;top:509.9px;width:16.8px;height:16.8px;background:#a94aaf;border-radius:50%;"></div>
<div class="t" style="left:854.7px;top:507.2px;font-size:17px;line-height:24px;color:#555;transform:scaleX(0.9278);">Service Down</div>
<div class="t" style="left:979.2px;top:507.2px;font-size:17px;line-height:24px;color:#555;">1</div>
<svg class="b" style="left:648px;top:672px" width="611" height="320" viewBox="648 672 611 320"><circle cx="834.3" cy="875.0" r="134.0" fill="none" stroke="#e8de68" stroke-width="42.4"/><path d="M931.34 996.12A155.20 155.20 0 0 1 841.61 1030.03L839.61 987.67A112.80 112.80 0 0 0 904.83 963.03Z" fill="#f9a95c" stroke="#fff" stroke-width=".7"/></svg>
<svg class="b" style="left:801px;top:792px" width="66" height="56" viewBox="0 0 66 56" fill="none" stroke="#111" stroke-width="3" stroke-linecap="butt">
<path d="M32.7 4.5V10.5"/>
<path d="M12 3.2L19 10.2M53.5 3.2L46.5 10.2M1.5 15.8L11.5 18.6M64 15.8L54 18.6M1.5 34L11.5 31.2M64 34L54 31.2"/>
<path d="M15.8 46.8H49.6 C45.6 41 45 36 45 27.5C45 15.5 39 10.8 32.7 10.8C26.4 10.8 20.4 15.5 20.4 27.5C20.4 36 19.8 41 15.8 46.8Z" stroke-linejoin="round"/>
<path d="M29 47.5C29 52.5 36.4 52.5 36.4 47.5Z" fill="#111" stroke="none"/>
</svg>
<div class="t" style="left:811.0px;top:844.8px;font-size:43px;line-height:60px;color:#222;transform:scaleX(1.0245);">10</div>
<div class="t" style="left:804.4px;top:898.2px;font-size:25px;line-height:35px;color:#222;transform:scaleX(0.9145);">Alarm</div>
<div class="b" style="left:1041.0px;top:859.0px;width:24.7px;height:20.7px;background:#f9a95c;"></div>
<div class="b" style="left:1041.0px;top:892.0px;width:24.7px;height:20.7px;background:#e8de68;"></div>
<div class="t" style="left:1073.0px;top:857.8px;font-size:18px;line-height:25px;color:#222;transform:scaleX(0.9140);">Trouble ( 1 )</div>
<div class="t" style="left:1073.0px;top:890.8px;font-size:18px;line-height:25px;color:#222;transform:scaleX(0.9652);">Attention ( 9 )</div>
<div class="t" style="left:1347.3px;top:222.9px;font-size:15px;line-height:21px;color:#222;-webkit-text-stroke:0.60px #222;transform:scaleX(0.9796);">Name</div>
<div class="b" style="left:1280.0px;top:262.6px;width:603.0px;height:1.0px;background:#c8c8c8;"></div>
<div class="t" style="left:1347.3px;top:272.7px;font-size:16.5px;line-height:23px;color:#222;transform:scaleX(0.8766);">Server</div>
<div class="b" style="left:1280.0px;top:301.9px;width:603.0px;height:1.0px;background:#d6d6d6;"></div>
<div class="t" style="left:1347.3px;top:311.2px;font-size:16.5px;line-height:23px;color:#222;transform:scaleX(0.9087);">Router</div>
<div class="b" style="left:1280.0px;top:340.4px;width:603.0px;height:1.0px;background:#d6d6d6;"></div>
<div class="t" style="left:1347.3px;top:349.7px;font-size:16.5px;line-height:23px;color:#222;transform:scaleX(0.8993);">Switch</div>
<div class="b" style="left:1280.0px;top:378.9px;width:603.0px;height:1.0px;background:#d6d6d6;"></div>
<div class="t" style="left:1347.3px;top:388.2px;font-size:16.5px;line-height:23px;color:#222;transform:scaleX(0.8881);">Desktop</div>
<div class="b" style="left:1280.0px;top:417.4px;width:603.0px;height:1.0px;background:#d6d6d6;"></div>
<div class="t" style="left:1347.3px;top:426.7px;font-size:16.5px;line-height:23px;color:#222;transform:scaleX(0.8882);">Firewall</div>
<div class="b" style="left:1280.0px;top:455.9px;width:603.0px;height:1.0px;background:#d6d6d6;"></div>
<div class="t" style="left:1347.3px;top:465.2px;font-size:16.5px;line-height:23px;color:#222;transform:scaleX(0.8881);">DomainController</div>
<div class="b" style="left:1280.0px;top:494.4px;width:603.0px;height:1.0px;background:#d6d6d6;"></div>
<div class="t" style="left:1347.3px;top:503.7px;font-size:16.5px;line-height:23px;color:#222;transform:scaleX(0.8881);">Load Balancer</div>
<div class="b" style="left:1280.0px;top:532.9px;width:603.0px;height:1.0px;background:#d6d6d6;"></div>
<div class="t" style="left:1347.3px;top:542.2px;font-size:16.5px;line-height:23px;color:#222;transform:scaleX(0.8881);">WAN Accelerator</div>
<div class="b" style="left:1280.0px;top:571.4px;width:603.0px;height:1.0px;background:#d6d6d6;"></div>
<div class="t" style="left:1347.3px;top:580.7px;font-size:16.5px;line-height:23px;color:#222;transform:scaleX(0.8881);">Wireless</div>
<div class="b" style="left:1280.0px;top:609.9px;width:603.0px;height:1.0px;background:#d6d6d6;"></div>
<div class="t" style="left:1347.3px;top:619.2px;font-size:16.5px;line-height:23px;color:#222;transform:scaleX(0.8195);">UPS</div>
<div class="b" style="left:1280.0px;top:648.4px;width:603.0px;height:1.0px;background:#d6d6d6;"></div>
<div class="t" style="left:1347.3px;top:657.7px;font-size:16.5px;line-height:23px;color:#222;transform:scaleX(0.9548);">Printer</div>
<div class="b" style="left:1280.0px;top:686.9px;width:603.0px;height:1.0px;background:#d6d6d6;"></div>
<div class="t" style="left:1347.3px;top:696.2px;font-size:16.5px;line-height:23px;color:#222;transform:scaleX(0.8881);">Unknown</div>
<div class="b" style="left:1280.0px;top:725.4px;width:603.0px;height:1.0px;background:#d6d6d6;"></div>
<div class="t" style="left:1347.3px;top:734.7px;font-size:16.5px;line-height:23px;color:#222;transform:scaleX(0.8880);">Storage</div>
<div class="b" style="left:1280.0px;top:763.9px;width:603.0px;height:1.0px;background:#d6d6d6;"></div>
<div class="t" style="left:1347.3px;top:773.2px;font-size:16.5px;line-height:23px;color:#222;transform:scaleX(0.8785);">PDU</div>
<div class="b" style="left:1280.0px;top:802.4px;width:603.0px;height:1.0px;background:#d6d6d6;"></div>
<div class="t" style="left:1347.3px;top:811.7px;font-size:16.5px;line-height:23px;color:#222;transform:scaleX(0.8383);">UCS</div>
<div class="b" style="left:1280.0px;top:840.9px;width:603.0px;height:1.0px;background:#d6d6d6;"></div>
<div class="t" style="left:1347.3px;top:850.2px;font-size:16.5px;line-height:23px;color:#222;transform:scaleX(0.8879);">RAID</div>
<div class="b" style="left:1280.0px;top:879.4px;width:603.0px;height:1.0px;background:#d6d6d6;"></div>
<div class="t" style="left:1347.3px;top:888.7px;font-size:16.5px;line-height:23px;color:#222;transform:scaleX(0.8882);">FCSwitch</div>
<div class="b" style="left:1280.0px;top:917.9px;width:603.0px;height:1.0px;background:#d6d6d6;"></div>
<div class="t" style="left:1347.3px;top:927.2px;font-size:16.5px;line-height:23px;color:#222;transform:scaleX(0.8881);">TapeLibrary</div>
<div class="b" style="left:1280.0px;top:956.4px;width:603.0px;height:1.0px;background:#d6d6d6;"></div>
<svg class="b" style="left:1276px;top:203px" width="60" height="784" viewBox="1276 203 60 784"><circle cx="1302.6" cy="283.5" r="10.6" fill="#f95c5c"/><path d="M1298.9 279.8l7.4 7.4m0-7.4l-7.4 7.4" fill="none" stroke="#fff" stroke-width="2.8" stroke-linecap="round"/><circle cx="1302.6" cy="322.0" r="10.6" fill="#48b97e"/><path d="M1297.2 322.5l4 4l6.9-7.3" fill="none" stroke="#fff" stroke-width="2.6" stroke-linecap="round" stroke-linejoin="round"/><circle cx="1302.6" cy="360.5" r="10.6" fill="#48b97e"/><path d="M1297.2 361.0l4 4l6.9-7.3" fill="none" stroke="#fff" stroke-width="2.6" stroke-linecap="round" stroke-linejoin="round"/><circle cx="1302.6" cy="399.0" r="10.6" fill="#48b97e"/><path d="M1297.2 399.5l4 4l6.9-7.3" fill="none" stroke="#fff" stroke-width="2.6" stroke-linecap="round" stroke-linejoin="round"/><circle cx="1302.6" cy="437.5" r="10.6" fill="#48b97e"/><path d="M1297.2 438.0l4 4l6.9-7.3" fill="none" stroke="#fff" stroke-width="2.6" stroke-linecap="round" stroke-linejoin="round"/><circle cx="1302.6" cy="476.0" r="10.6" fill="#a94aaf"/><path d="M1302.6 470.4v8m-4.3-3.4l4.3 4.6l4.3-4.6" fill="none" stroke="#fff" stroke-width="2.7" stroke-linecap="round" stroke-linejoin="round"/><circle cx="1302.6" cy="514.5" r="10.6" fill="#48b97e"/><path d="M1297.2 515.0l4 4l6.9-7.3" fill="none" stroke="#fff" stroke-width="2.6" stroke-linecap="round" stroke-linejoin="round"/><circle cx="1302.6" cy="553.0" r="10.6" fill="#48b97e"/><path d="M1297.2 553.5l4 4l6.9-7.3" fill="none" stroke="#fff" stroke-width="2.6" stroke-linecap="round" stroke-linejoin="round"/><circle cx="1302.6" cy="591.5" r="10.6" fill="#48b97e"/><path d="M1297.2 592.0l4 4l6.9-7.3" fill="none" stroke="#fff" stroke-width="2.6" stroke-linecap="round" stroke-linejoin="round"/><circle cx="1302.6" cy="630.0" r="10.6" fill="#48b97e"/><path d="M1297.2 630.5l4 4l6.9-7.3" fill="none" stroke="#fff" stroke-width="2.6" stroke-linecap="round" stroke-linejoin="round"/><circle cx="1302.6" cy="668.5" r="10.6" fill="#48b97e"/><path d="M1297.2 669.0l4 4l6.9-7.3" fill="none" stroke="#fff" stroke-width="2.6" stroke-linecap="round" stroke-linejoin="round"/><circle cx="1302.6" cy="707.0" r="10.6" fill="#f95c5c"/><path d="M1298.9 703.3l7.4 7.4m0-7.4l-7.4 7.4" fill="none" stroke="#fff" stroke-width="2.8" stroke-linecap="round"/><circle cx="1302.6" cy="745.5" r="10.6" fill="#48b97e"/><path d="M1297.2 746.0l4 4l6.9-7.3" fill="none" stroke="#fff" stroke-width="2.6" stroke-linecap="round" stroke-linejoin="round"/><circle cx="1302.6" cy="784.0" r="10.6" fill="#48b97e"/><path d="M1297.2 784.5l4 4l6.9-7.3" fill="none" stroke="#fff" stroke-width="2.6" stroke-linecap="round" stroke-linejoin="round"/><circle cx="1302.6" cy="822.5" r="10.6" fill="#48b97e"/><path d="M1297.2 823.0l4 4l6.9-7.3" fill="none" stroke="#fff" stroke-width="2.6" stroke-linecap="round" stroke-linejoin="round"/><circle cx="1302.6" cy="861.0" r="10.6" fill="#48b97e"/><path d="M1297.2 861.5l4 4l6.9-7.3" fill="none" stroke="#fff" stroke-width="2.6" stroke-linecap="round" stroke-linejoin="round"/><circle cx="1302.6" cy="899.5" r="10.6" fill="#48b97e"/><path d="M1297.2 900.0l4 4l6.9-7.3" fill="none" stroke="#fff" stroke-width="2.6" stroke-linecap="round" stroke-linejoin="round"/><circle cx="1302.6" cy="938.0" r="10.6" fill="#48b97e"/><path d="M1297.2 938.5l4 4l6.9-7.3" fill="none" stroke="#fff" stroke-width="2.6" stroke-linecap="round" stroke-linejoin="round"/><circle cx="1302.6" cy="988.2" r="10.6" fill="#48b97e"/><path d="M1297.2 988.7l4 4l6.9-7.3" fill="none" stroke="#fff" stroke-width="2.6" stroke-linecap="round" stroke-linejoin="round"/></svg>
<div class="t" style="left:1347.3px;top:962.6px;font-size:16.5px;line-height:23px;color:#222;transform:scaleX(0.8956);">Wireless LAN</div>
<div class="b" style="left:1512.9px;top:980.8px;width:7.2px;height:9.0px;background:transparent;border:1.3px solid #333;border-radius:50%;box-sizing:border-box;"></div>
<div class="b" style="left:1622.9px;top:980.8px;width:7.2px;height:9.0px;background:transparent;border:1.3px solid #333;border-radius:50%;box-sizing:border-box;"></div>
<div class="b" style="left:1732.9px;top:980.8px;width:7.2px;height:9.0px;background:transparent;border:1.3px solid #333;border-radius:50%;box-sizing:border-box;"></div>
<div class="b" style="left:1398.3px;top:26.0px;width:499.7px;height:940.6px;background:#27ab67;border-radius:30px 30px 30px 30px;box-shadow:0 2px 10px rgba(0,0,0,.28);"></div>
<div class="b" style="left:1398.3px;top:130.8px;width:499.7px;height:835.3px;background:#fff;border-radius:29px 22px 30px 30px;"></div>
<svg class="b" style="left:1417.6px;top:55.5px" width="45.6" height="45.6" viewBox="-25 -25 50 50"><circle r="24.3" fill="#fff" stroke="#fff" stroke-width="1"/><g opacity="1"><path d="M-14.4 -3.2A15.4 15.4 0 0 1 15.6 -3.2" fill="none" stroke="#1b8f63" stroke-width="1.1"/><rect x="-16.9" y="-4.6" width="3.4" height="8.8" rx="1.2" fill="#1fca98"/><rect x="14.6" y="-4.6" width="3.4" height="8.8" rx="1.2" fill="#1fca98"/><circle cx="0.6" cy="-0.2" r="13.2" fill="#1fca98"/><path d="M5.5 11.5L10.6 14.8L9.8 8.5Z" fill="#1fca98"/><path d="M-9.2 0.5C-9.2 -4.8 -4.6 -7 0.4 -7C5.4 -7 9.6 -4.8 9.6 0.5C9.6 4.4 6.4 5.9 0.3 5.9C-5.8 5.9 -9.2 4.4 -9.2 0.5Z" fill="#fff"/><circle cx="-4.1" cy="-0.6" r="1.4" fill="#1fca98"/><circle cx="5.4" cy="-0.6" r="1.4" fill="#1fca98"/><path d="M-1.6 2.2H2.8A2.2 2.2 0 0 1 -1.6 2.2Z" fill="#1fca98"/><path d="M-14.6 4.2C-14.8 8 -13.8 10 -12.2 11.2" fill="none" stroke="#1b8f63" stroke-width="1.1" stroke-linecap="round"/><circle cx="-11.9" cy="11.4" r="1.1" fill="#1b8f63"/></g></svg>
<div class="t" style="left:1471.9px;top:62.0px;font-size:26.5px;line-height:37px;color:#fff;-webkit-text-stroke:1.06px #fff;transform:scaleX(0.9213);">Ask Zia</div>
<div class="b" style="left:1803.2px;top:64.0px;width:30.0px;height:30.0px;background:#49bb80;border-radius:4px;"></div>
<div class="b" style="left:1848.0px;top:64.0px;width:30.0px;height:30.0px;background:#49bb80;border-radius:4px;"></div>
<svg class="b" style="left:1803.2px;top:64px" width="30" height="30" viewBox="0 0 30 30" fill="none" stroke="#fff" stroke-width="1.5"><path d="M10.2 10.6A6.9 6.9 0 1 1 8.9 17.6"/><path d="M10.6 6.8V11.2H15"/></svg>
<div class="b" style="left:1855.0px;top:78.2px;width:16.5px;height:1.6px;background:#fff;"></div>
<div class="b" style="left:1473.0px;top:100.0px;width:391.7px;height:150.9px;background:#fff;border:1px solid #e1e5ea;box-sizing:border-box;border-radius:22px;clip-path:inset(31.5px 0 0 0);"></div>
<div class="b" style="left:1494.4px;top:134.4px;width:182.2px;height:42.7px;background:#fff;border:1px solid #8fd1ad;box-sizing:border-box;border-radius:4px;"></div>
<div class="t" style="left:1510.0px;top:144.4px;font-size:17px;line-height:24px;color:#8fd1ad;transform:scaleX(0.9887);">Check device status</div>
<div class="b" style="left:1494.4px;top:187.4px;width:249.3px;height:42.9px;background:#fff;border:1px solid #8fd1ad;box-sizing:border-box;border-radius:4px;"></div>
<div class="t" style="left:1510.0px;top:197.6px;font-size:17px;line-height:24px;color:#8fd1ad;transform:scaleX(1.0058);">View device health summary</div>
<div class="b" style="left:1669.0px;top:275.8px;width:195.7px;height:41.0px;background:#48b97e;border-radius:20.5px;"></div>
<div class="t" style="left:1684.5px;top:285.1px;font-size:18px;line-height:25px;color:#fff;transform:scaleX(0.9630);">View device overview</div>
<svg class="b" style="left:1418.2px;top:342.2px" width="44.6" height="44.6" viewBox="-25 -25 50 50"><circle r="24.3" fill="#fff" stroke="#cdeedd" stroke-width="1"/><g opacity="0.5"><path d="M-14.4 -3.2A15.4 15.4 0 0 1 15.6 -3.2" fill="none" stroke="#1b8f63" stroke-width="1.1"/><rect x="-16.9" y="-4.6" width="3.4" height="8.8" rx="1.2" fill="#1fca98"/><rect x="14.6" y="-4.6" width="3.4" height="8.8" rx="1.2" fill="#1fca98"/><circle cx="0.6" cy="-0.2" r="13.2" fill="#1fca98"/><path d="M5.5 11.5L10.6 14.8L9.8 8.5Z" fill="#1fca98"/><path d="M-9.2 0.5C-9.2 -4.8 -4.6 -7 0.4 -7C5.4 -7 9.6 -4.8 9.6 0.5C9.6 4.4 6.4 5.9 0.3 5.9C-5.8 5.9 -9.2 4.4 -9.2 0.5Z" fill="#fff"/><circle cx="-4.1" cy="-0.6" r="1.4" fill="#1fca98"/><circle cx="5.4" cy="-0.6" r="1.4" fill="#1fca98"/><path d="M-1.6 2.2H2.8A2.2 2.2 0 0 1 -1.6 2.2Z" fill="#1fca98"/><path d="M-14.6 4.2C-14.8 8 -13.8 10 -12.2 11.2" fill="none" stroke="#1b8f63" stroke-width="1.1" stroke-linecap="round"/><circle cx="-11.9" cy="11.4" r="1.1" fill="#1b8f63"/></g></svg>
<div class="b" style="left:1473.0px;top:341.8px;width:391.7px;height:116.6px;background:#fff;border:1px solid #e1e5ea;box-sizing:border-box;border-radius:22px;"></div>
<div class="t" style="left:1494.0px;top:362.7px;font-size:17px;line-height:24px;color:#666;transform:scaleX(0.9934);">Please select a device from the list below</div>
<div class="b" style="left:1494.4px;top:396.4px;width:343.3px;height:41.6px;background:#fff;border:1px solid #f0f0f0;box-sizing:border-box;"></div>
<div class="b" style="left:1799.3px;top:396.4px;width:1.0px;height:41.6px;background:#f0f0f0;"></div>
<svg class="b" style="left:1813.3px;top:414.5px" width="9" height="5"><path d="M0 0H9L4.5 5Z" fill="#d8d8d8"/></svg>
<div class="b" style="left:1503.0px;top:403.3px;width:111.0px;height:23.4px;background:#c4c4c4;"></div>
<div class="b" style="left:1737.8px;top:484.0px;width:126.9px;height:40.6px;background:#48b97e;border-radius:20.3px;"></div>
<div class="t" style="left:1753.0px;top:492.9px;font-size:18px;line-height:25px;color:#fff;transform:scaleX(0.9614);">Adfsenv-dc1</div>
<svg class="b" style="left:1418.2px;top:550.0px" width="44.6" height="44.6" viewBox="-25 -25 50 50"><circle r="24.3" fill="#fff" stroke="#a8dfc4" stroke-width="1"/><g opacity="1"><path d="M-14.4 -3.2A15.4 15.4 0 0 1 15.6 -3.2" fill="none" stroke="#1b8f63" stroke-width="1.1"/><rect x="-16.9" y="-4.6" width="3.4" height="8.8" rx="1.2" fill="#1fca98"/><rect x="14.6" y="-4.6" width="3.4" height="8.8" rx="1.2" fill="#1fca98"/><circle cx="0.6" cy="-0.2" r="13.2" fill="#1fca98"/><path d="M5.5 11.5L10.6 14.8L9.8 8.5Z" fill="#1fca98"/><path d="M-9.2 0.5C-9.2 -4.8 -4.6 -7 0.4 -7C5.4 -7 9.6 -4.8 9.6 0.5C9.6 4.4 6.4 5.9 0.3 5.9C-5.8 5.9 -9.2 4.4 -9.2 0.5Z" fill="#fff"/><circle cx="-4.1" cy="-0.6" r="1.4" fill="#1fca98"/><circle cx="5.4" cy="-0.6" r="1.4" fill="#1fca98"/><path d="M-1.6 2.2H2.8A2.2 2.2 0 0 1 -1.6 2.2Z" fill="#1fca98"/><path d="M-14.6 4.2C-14.8 8 -13.8 10 -12.2 11.2" fill="none" stroke="#1b8f63" stroke-width="1.1" stroke-linecap="round"/><circle cx="-11.9" cy="11.4" r="1.1" fill="#1b8f63"/></g></svg>
<div class="b" style="left:1473.0px;top:550.3px;width:391.7px;height:371.0px;background:#fff;border:1px solid #c9d0d9;box-sizing:border-box;border-radius:22px;"></div>
<div class="b" style="left:1494.4px;top:571.3px;width:349.3px;height:282.5px;background:#fff;border:1px solid #e9e9e9;box-sizing:border-box;"></div>
<div class="t" style="left:1507.2px;top:583.1px;font-size:18px;line-height:25px;color:#0d0d0d;transform:scaleX(0.9367);">Status</div>
<div class="t" style="left:1664.2px;top:582.1px;font-size:18px;line-height:25px;color:#0d0d0d;">:</div>
<div class="t" style="left:1693.8px;top:583.1px;font-size:18px;line-height:25px;color:#0d0d0d;transform:scaleX(0.9507);">Clear</div>
<div class="t" style="left:1507.2px;top:630.1px;font-size:18px;line-height:25px;color:#0d0d0d;transform:scaleX(0.9432);">IP Address</div>
<div class="t" style="left:1664.2px;top:629.1px;font-size:18px;line-height:25px;color:#0d0d0d;">:</div>
<div class="b" style="left:1494.4px;top:618.3px;width:349.3px;height:1.0px;background:#e9e9e9;"></div>
<div class="t" style="left:1507.2px;top:677.1px;font-size:18px;line-height:25px;color:#0d0d0d;transform:scaleX(0.9693);">Category</div>
<div class="t" style="left:1664.2px;top:676.1px;font-size:18px;line-height:25px;color:#0d0d0d;">:</div>
<div class="t" style="left:1693.8px;top:677.1px;font-size:18px;line-height:25px;color:#0d0d0d;transform:scaleX(0.9335);">Server</div>
<div class="b" style="left:1494.4px;top:665.3px;width:349.3px;height:1.0px;background:#e9e9e9;"></div>
<div class="t" style="left:1507.2px;top:724.1px;font-size:18px;line-height:25px;color:#0d0d0d;transform:scaleX(0.9359);">Device Type</div>
<div class="t" style="left:1664.2px;top:723.1px;font-size:18px;line-height:25px;color:#0d0d0d;">:</div>
<div class="t" style="left:1693.8px;top:724.1px;font-size:18px;line-height:25px;color:#0d0d0d;transform:scaleX(0.9842);">Windows 2019</div>
<div class="b" style="left:1494.4px;top:712.3px;width:349.3px;height:1.0px;background:#e9e9e9;"></div>
<div class="t" style="left:1507.2px;top:771.1px;font-size:18px;line-height:25px;color:#0d0d0d;transform:scaleX(0.9692);">Vendor</div>
<div class="t" style="left:1664.2px;top:770.1px;font-size:18px;line-height:25px;color:#0d0d0d;">:</div>
<div class="t" style="left:1693.8px;top:771.1px;font-size:18px;line-height:25px;color:#0d0d0d;transform:scaleX(1.0217);">Microsoft</div>
<div class="b" style="left:1494.4px;top:759.3px;width:349.3px;height:1.0px;background:#e9e9e9;"></div>
<div class="t" style="left:1507.2px;top:818.1px;font-size:18px;line-height:25px;color:#0d0d0d;transform:scaleX(0.9385);">Device Name</div>
<div class="t" style="left:1664.2px;top:817.1px;font-size:18px;line-height:25px;color:#0d0d0d;">:</div>
<div class="b" style="left:1494.4px;top:806.3px;width:349.3px;height:1.0px;background:#e9e9e9;"></div>
<div class="b" style="left:1689.0px;top:626.3px;width:101.8px;height:25.5px;background:#c4c4c4;"></div>
<div class="b" style="left:1691.0px;top:818.3px;width:104.6px;height:20.6px;background:#c4c4c4;"></div>
<div class="t" style="left:1494.0px;top:865.2px;font-size:18px;line-height:25px;color:#3d9be9;transform:scaleX(0.9496);">Click here</div>
<div class="t" style="left:1574.5px;top:865.2px;font-size:18px;line-height:25px;color:#0d0d0d;transform:scaleX(0.9569);">for more details.</div>
<div class="t" style="left:1644.3px;top:928.1px;font-size:18px;line-height:25px;color:#3d9be9;transform:scaleX(0.9189);">Go back</div>
<div class="t" style="left:1712.3px;top:927.5px;font-size:17px;line-height:24px;color:#9cc9f0;">|</div>
<div class="t" style="left:1725.0px;top:928.1px;font-size:18px;line-height:25px;color:#3d9be9;transform:scaleX(0.9545);">Main menu</div>
<div class="t" style="left:1816.0px;top:927.5px;font-size:17px;line-height:24px;color:#9cc9f0;">|</div>
<div class="t" style="left:1829.3px;top:928.1px;font-size:18px;line-height:25px;color:#3d9be9;transform:scaleX(0.8991);">End</div>
<div class="b" style="left:1885.0px;top:131.0px;width:13.0px;height:828.0px;background:#fafafa;border-radius:0 0 12px 0;"></div>
<svg class="b" style="left:1887px;top:138.5px" width="9" height="5"><path d="M0 5H9L4.5 0Z" fill="#555"/></svg>
<div class="b" style="left:1888.0px;top:665.0px;width:7.0px;height:282.0px;background:#8a8a8a;border-radius:3.5px;"></div>
<svg class="b" style="left:1887.5px;top:951.5px" width="8" height="4.5"><path d="M0 0H8L4 4.5Z" fill="#555"/></svg>
<div class="b" style="left:1902.0px;top:88.0px;width:13.0px;height:896.0px;background:#f6f6f6;"></div>
<div class="b" style="left:1898.0px;top:87.2px;width:4.0px;height:49.7px;background:#f1e4b3;"></div>
<svg class="b" style="left:1904px;top:95px" width="9" height="5"><path d="M0 5H9L4.5 0Z" fill="#555"/></svg>
<div class="b" style="left:1905.0px;top:105.0px;width:7.0px;height:172.0px;background:#8a8a8a;border-radius:3.5px;"></div>
<svg class="b" style="left:1904px;top:969.5px" width="9" height="5"><path d="M0 0H9L4.5 5Z" fill="#555"/></svg>
<div class="b" style="left:1915.0px;top:0.0px;width:5.0px;height:987.0px;background:#fff;"></div>
</div>
</body></html>
